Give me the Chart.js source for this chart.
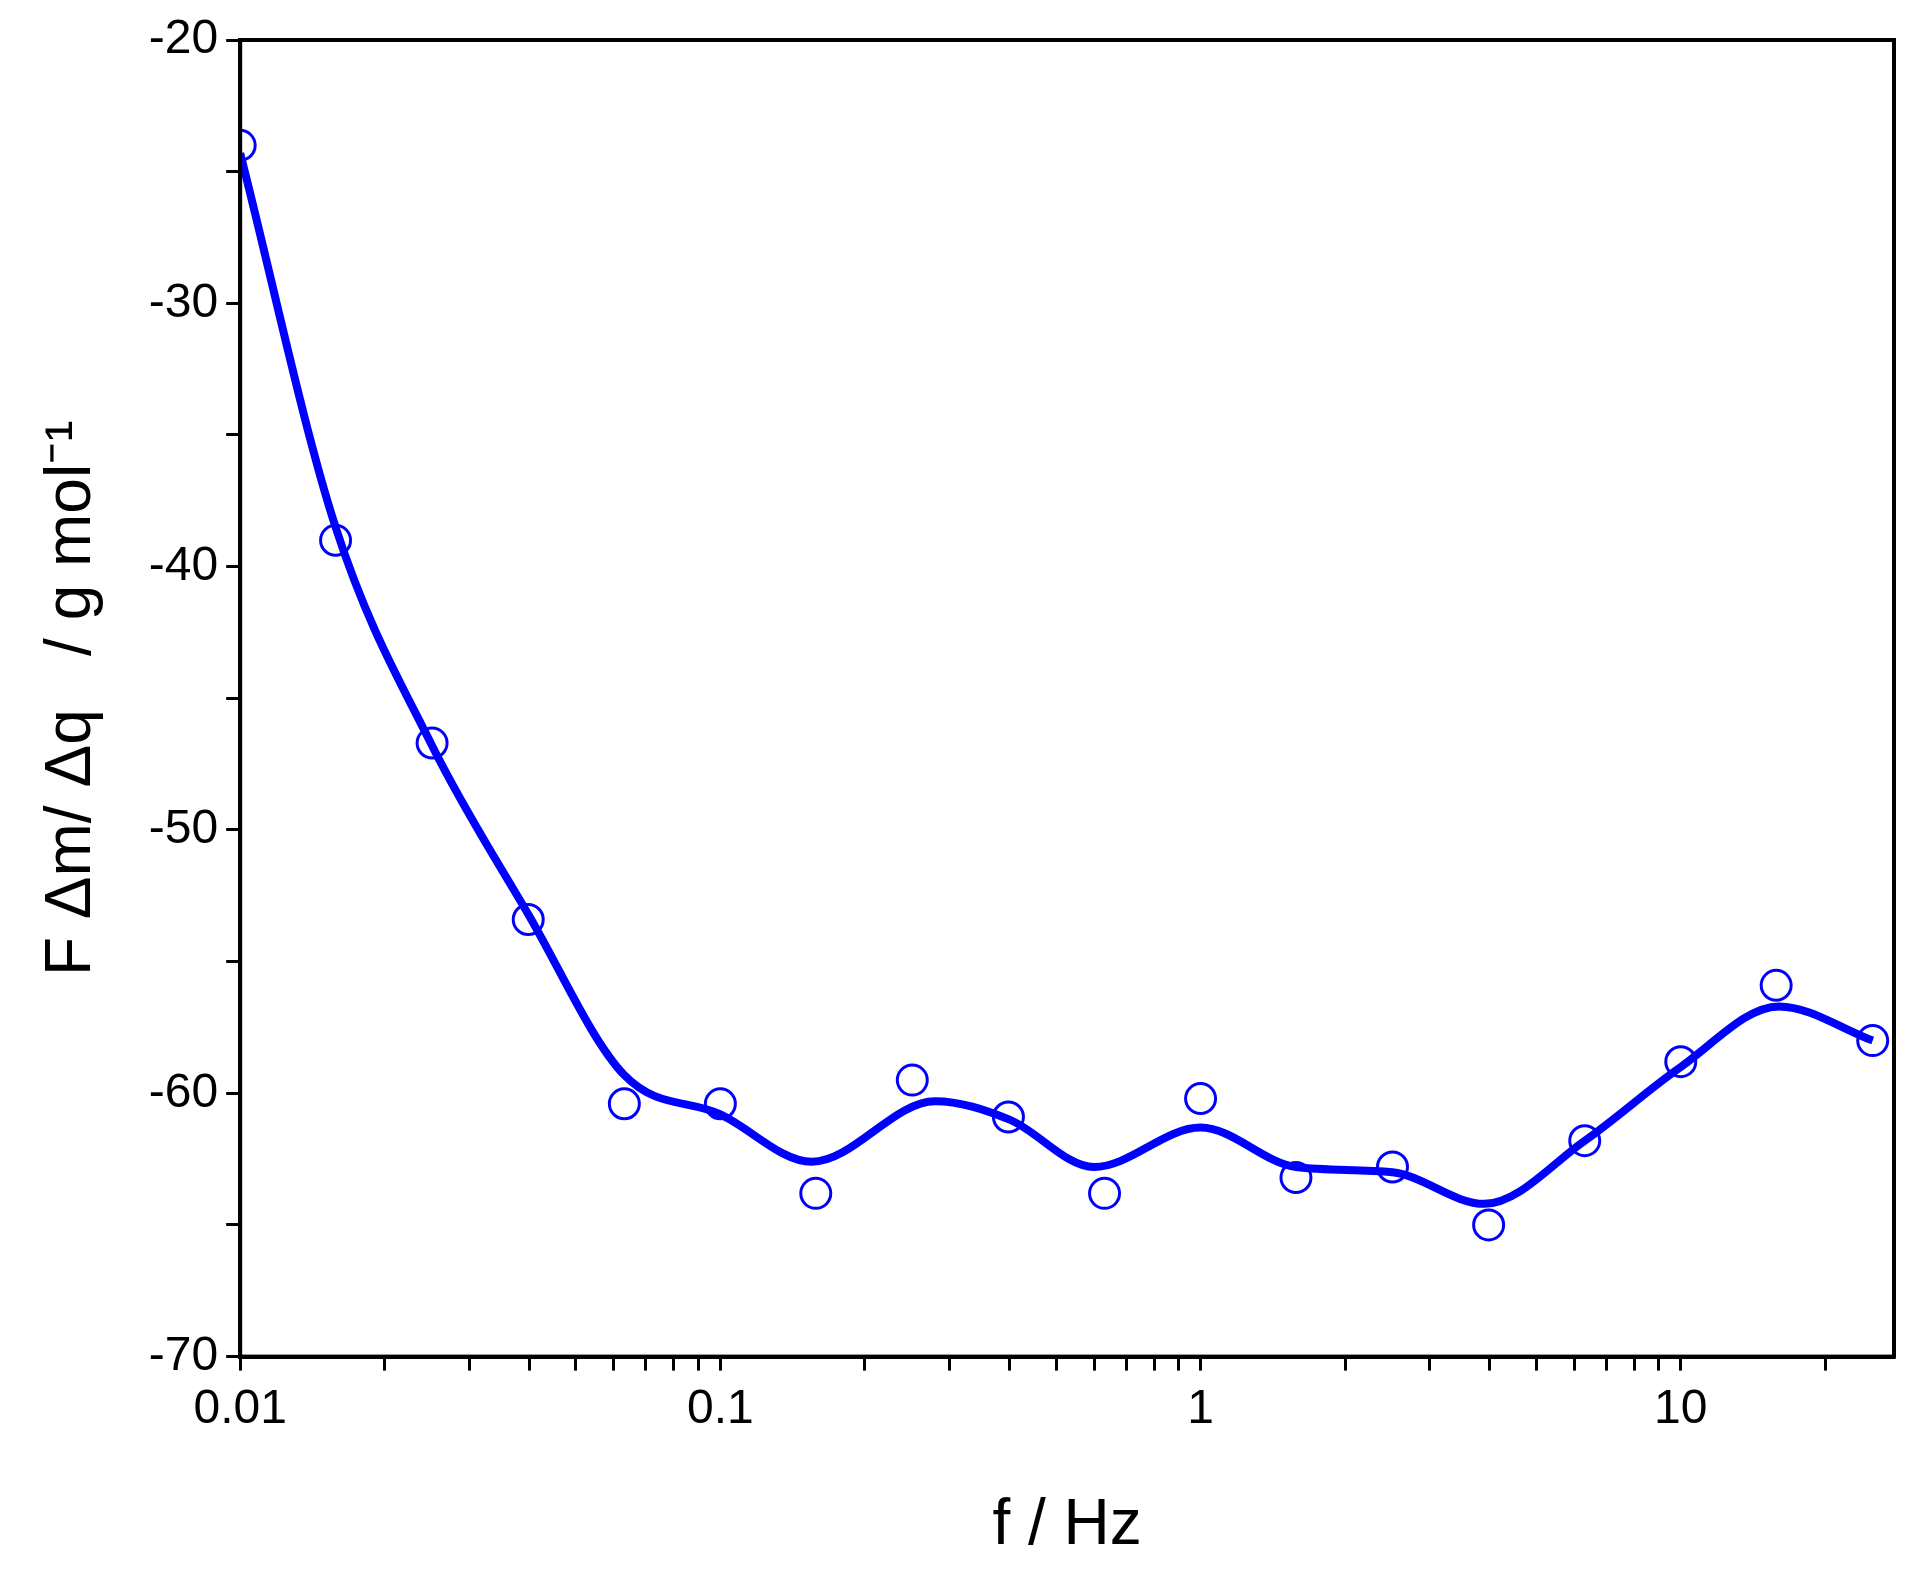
<!DOCTYPE html>
<html><head><meta charset="utf-8">
<script src="https://cdn.jsdelivr.net/npm/chart.js@4"></script>
<style>body{margin:0;background:#fff}#wrap{width:1914px;height:1579px}</style>
</head><body><div id="wrap"><canvas id="c"></canvas></div>
<script>
// Messpunkte
const freq = [0.01, 0.0158, 0.0251, 0.0398, 0.0631, 0.1, 0.158, 0.251, 0.398, 0.631, 1, 1.58, 2.51, 3.98, 6.31, 10, 15.8, 25.1];
const values = [-24, -39, -46.7, -53.4, -60.4, -60.4, -63.8, -59.5, -60.9, -63.8, -60.2, -63.2, -62.8, -65, -61.8, -58.8, -55.9, -58];
// Fit-Kurve
const fitFreq = [0.01, 0.0158, 0.0251, 0.0398, 0.063, 0.1, 0.155, 0.28, 0.4, 0.6, 1.0, 1.58, 2.51, 3.9, 6.31, 10, 16, 25.1];
const fitValues = [-24.3, -38.5, -46.8, -53.2, -59.3, -60.8, -62.6, -60.3, -61, -62.8, -61.3, -62.8, -63, -64.2, -61.8, -59, -56.7, -58];

const blue = '#0000ff';
const frame = {
    id: 'frame',
    afterDraw(chart) {
        const a = chart.chartArea, ctx = chart.ctx;
        ctx.save();
        ctx.strokeStyle = '#000';
        ctx.lineWidth = 4;
        ctx.strokeRect(a.left, a.top, a.right - a.left, a.bottom - a.top);
        ctx.restore();
    }
};
const font = 'Arial, Liberation Sans';

new Chart(document.getElementById('c'), {
    type: 'line',
    data: {
        datasets: [
            {
                data: fitFreq.map((x, i) => ({ x: x, y: fitValues[i] })),
                borderColor: blue,
                borderWidth: 8,
                pointRadius: 0,
                cubicInterpolationMode: 'monotone',
                fill: false
            },
            {
                data: freq.map((x, i) => ({ x: x, y: values[i] })),
                showLine: false,
                pointRadius: 15,
                pointBackgroundColor: '#fff',
                pointBorderColor: blue,
                pointBorderWidth: 3
            }
        ]
    },
    options: {
        responsive: true,
        maintainAspectRatio: false,
        animation: false,
        layout: { padding: { top: 40, right: 20, bottom: 10, left: 30 } },
        plugins: { legend: { display: false }, tooltip: { enabled: false } },
        scales: {
            x: {
                type: 'logarithmic',
                min: 0.01,
                max: 27.8,
                grid: { display: true, drawOnChartArea: false, tickLength: 14, tickColor: '#000', tickWidth: 3 },
                border: { color: '#000', width: 4 },
                afterBuildTicks(s) {
                    const t = [];
                    for (let e = -2; e <= 1; e++) for (let m = 1; m <= 9; m++) {
                        const v = m * Math.pow(10, e);
                        if (v >= 0.01 && v <= 27.8) t.push({ value: v });
                    }
                    s.ticks = t;
                },
                ticks: {
                    autoSkip: false, maxRotation: 0, color: '#000', padding: 10,
                    font: { family: font, size: 48 },
                    callback(v) {
                        const l = Math.log10(v);
                        return Math.abs(l - Math.round(l)) < 1e-9 ? String(+v.toPrecision(1)) : '';
                    }
                },
                title: { display: true, text: 'f / Hz', color: '#000', font: { family: font, size: 64 }, padding: { top: 40 } }
            },
            y: {
                min: -70,
                max: -20,
                grid: { display: true, drawOnChartArea: false, tickLength: 14, tickColor: '#000', tickWidth: 3 },
                border: { color: '#000', width: 4 },
                ticks: {
                    stepSize: 5, color: '#000', padding: 8,
                    font: { family: font, size: 48 },
                    callback: v => (v % 10 === 0 ? v : '')
                },
                title: { display: true, text: 'F Δm/ Δq   / g mol⁻¹', color: '#000', font: { family: font, size: 64 }, padding: { bottom: 30 } }
            }
        }
    },
    plugins: [frame]
});
</script></body></html>
